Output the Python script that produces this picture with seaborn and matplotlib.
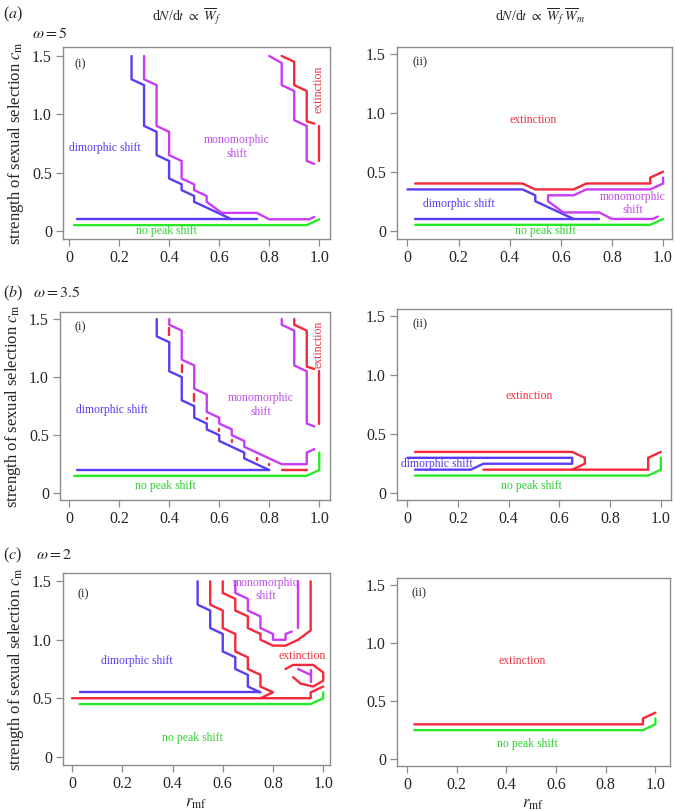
import matplotlib
matplotlib.use("Agg")
import matplotlib.pyplot as plt
import seaborn as sns
import pandas as pd

sns.set_style("white")
plt.rcParams['font.family'] = ['Liberation Serif', 'DejaVu Serif']
plt.rcParams['mathtext.fontset'] = 'stix'

# ---------------- data (r_mf, c_m) ----------------
X_TICKS = [0, 0.2, 0.4, 0.6, 0.8, 1.0]
X_TICKLABELS = ["0", "0.2", "0.4", "0.6", "0.8", "1.0"]
Y_TICKS = [0, 0.5, 1.0, 1.5]
Y_TICKLABELS = ["0", "0.5", "1.0", "1.5"]

COLUMN_TITLES = [r"d$N$/d$t$ $\propto$ $\overline{W}_f$",
                 r"d$N$/d$t$ $\propto$ $\overline{W}_f\ \overline{W}_m$"]
ROW_LETTERS = [r"($a$)", r"($b$)", r"($c$)"]
ROW_OMEGAS = [r"$\omega = 5$", r"$\omega = 3.5$", r"$\omega = 2$"]

# (a)(i)
A1_BLUE = [[(0.25, 1.5), (0.25, 1.3), (0.3, 1.25), (0.3, 0.9), (0.35, 0.85), (0.35, 0.65),
            (0.4, 0.6), (0.4, 0.45), (0.45, 0.4), (0.45, 0.35), (0.5, 0.3), (0.5, 0.25), (0.65, 0.1)],
           [(0.03, 0.1), (0.75, 0.1)]]
A1_PURPLE = [[(0.3, 1.5), (0.3, 1.3), (0.35, 1.25), (0.35, 0.9), (0.4, 0.85), (0.4, 0.65),
              (0.45, 0.6), (0.45, 0.45), (0.5, 0.4), (0.5, 0.35), (0.55, 0.3), (0.55, 0.25),
              (0.61, 0.155), (0.75, 0.155), (0.8, 0.1), (0.96, 0.1), (0.98, 0.12)],
             [(0.8, 1.5), (0.85, 1.44), (0.85, 1.25), (0.9, 1.2), (0.9, 0.95), (0.95, 0.9),
              (0.95, 0.6), (0.98, 0.575)]]
A1_RED = [[(0.85, 1.5), (0.9, 1.45), (0.9, 1.25), (0.95, 1.2), (0.95, 0.94), (0.98, 0.92)],
          [(1.0, 0.9), (1.0, 0.6)]]
A1_GREEN = [[(0.02, 0.05), (0.95, 0.05), (1.0, 0.1)]]

# (a)(ii)
A2_RED = [[(0.03, 0.4), (0.45, 0.4), (0.5, 0.35), (0.65, 0.35), (0.7, 0.4), (0.95, 0.4),
           (0.95, 0.45), (1.0, 0.5)]]
A2_BLUE = [[(0.0, 0.35), (0.45, 0.35), (0.5, 0.3), (0.5, 0.25), (0.65, 0.1)],
           [(0.03, 0.1), (0.75, 0.1)]]
A2_PURPLE = [[(1.0, 0.45), (1.0, 0.4), (0.95, 0.35), (0.7, 0.35), (0.65, 0.3), (0.55, 0.3),
              (0.55, 0.25), (0.61, 0.155), (0.75, 0.155), (0.8, 0.1), (0.96, 0.1), (0.98, 0.12)]]
A2_GREEN = [[(0.03, 0.05), (0.95, 0.05), (1.0, 0.1)]]

# (b)(i)
B1_BLUE = [[(0.35, 1.5), (0.35, 1.35), (0.4, 1.3), (0.4, 1.05), (0.45, 1.0), (0.45, 0.8),
            (0.5, 0.75), (0.5, 0.65), (0.55, 0.6), (0.55, 0.55), (0.6, 0.5), (0.6, 0.45),
            (0.7, 0.35), (0.7, 0.3), (0.8, 0.2)],
           [(0.03, 0.2), (0.8, 0.2)]]
B1_PURPLE = [[(0.4, 1.5), (0.4, 1.45), (0.45, 1.4), (0.45, 1.15), (0.5, 1.1), (0.5, 0.9),
              (0.55, 0.85), (0.55, 0.7), (0.6, 0.65), (0.6, 0.6), (0.65, 0.55), (0.65, 0.5),
              (0.7, 0.45), (0.7, 0.4), (0.85, 0.25), (0.95, 0.25), (0.95, 0.35), (0.98, 0.38)],
             [(0.85, 1.5), (0.85, 1.45), (0.9, 1.4), (0.9, 1.1), (0.95, 1.05), (0.95, 0.6),
              (0.98, 0.575)]]
B1_RED = [[(0.9, 1.5), (0.9, 1.45), (0.95, 1.4), (0.95, 1.09), (0.98, 1.07)],
          [(1.0, 1.05), (1.0, 0.6)],
          [(0.85, 0.2), (0.95, 0.2)],
          [(0.4, 1.42), (0.4, 1.36)], [(0.45, 1.1), (0.45, 1.045)], [(0.5, 0.85), (0.5, 0.79)],
          [(0.55, 0.65), (0.55, 0.635)], [(0.6, 0.555), (0.6, 0.54)], [(0.65, 0.455), (0.65, 0.44)],
          [(0.75, 0.305), (0.75, 0.29)], [(0.8, 0.255), (0.8, 0.24)]]
B1_GREEN = [[(0.02, 0.15), (0.95, 0.15), (1.0, 0.2), (1.0, 0.35)]]

# (b)(ii)
B2_RED = [[(0.03, 0.35), (0.65, 0.35), (0.7, 0.3), (0.7, 0.25), (0.65, 0.2)],
          [(0.3, 0.2), (0.95, 0.2), (0.95, 0.3), (1.0, 0.35)]]
B2_BLUE = [[(0.0, 0.3), (0.65, 0.3), (0.65, 0.25), (0.3, 0.25), (0.25, 0.2), (0.03, 0.2)]]
B2_GREEN = [[(0.03, 0.15), (0.95, 0.15), (1.0, 0.2), (1.0, 0.3)]]

# (c)(i)
C1_BLUE = [[(0.5, 1.5), (0.5, 1.3), (0.55, 1.25), (0.55, 1.1), (0.6, 1.05), (0.6, 0.9),
            (0.65, 0.85), (0.65, 0.75), (0.7, 0.7), (0.7, 0.6), (0.75, 0.55)],
           [(0.03, 0.55), (0.75, 0.55)]]
C1_RED = [[(0.55, 1.5), (0.55, 1.3), (0.6, 1.25), (0.6, 1.1), (0.65, 1.05), (0.65, 0.9),
           (0.7, 0.85), (0.7, 0.75), (0.75, 0.7), (0.75, 0.6), (0.8, 0.55), (0.75, 0.5)],
          [(0.0, 0.5), (0.95, 0.5), (0.95, 0.55), (1.0, 0.6)],
          [(0.6, 1.5), (0.6, 1.4), (0.65, 1.35), (0.65, 1.25), (0.7, 1.2), (0.7, 1.1),
           (0.75, 1.05), (0.75, 1.0), (0.8, 0.95), (0.85, 0.95), (0.9, 1.0), (0.95, 1.08),
           (0.95, 1.5)],
          [(0.85, 0.75), (0.88, 0.785), (0.96, 0.785), (1.0, 0.72), (1.0, 0.65), (0.96, 0.6),
           (0.91, 0.625), (0.88, 0.68)]]
C1_PURPLE = [[(0.65, 1.5), (0.65, 1.4), (0.7, 1.35), (0.7, 1.25), (0.75, 1.2), (0.75, 1.1),
              (0.8, 1.05), (0.8, 1.0), (0.85, 1.0), (0.85, 1.05), (0.875, 1.07)],
             [(0.9, 1.1), (0.9, 1.5)],
             [(0.9, 0.75), (0.95, 0.7)], [(0.95, 0.74), (0.95, 0.64)]]
C1_GREEN = [[(0.03, 0.45), (0.95, 0.45), (1.0, 0.5), (1.0, 0.55)]]

# (c)(ii)
C2_RED = [[(0.03, 0.3), (0.95, 0.3), (0.95, 0.35), (1.0, 0.4)]]
C2_GREEN = [[(0.03, 0.25), (0.95, 0.25), (1.0, 0.3), (1.0, 0.35)]]

# region labels: (text, x, y, colour key, rotation)
A1_LABELS = [("dimorphic shift", 0.145, 0.71, "blue", 0), ("monomorphic\nshift", 0.67, 0.72, "purple", 0),
             ("extinction", 0.997, 1.21, "red", 90), ("no peak shift", 0.39, 0.0, "green", 0)]
A2_LABELS = [("extinction", 0.49, 0.94, "red", 0), ("dimorphic shift", 0.2, 0.23, "blue", 0),
             ("monomorphic\nshift", 0.88, 0.23, "purple", 0), ("no peak shift", 0.54, 0.0, "green", 0)]
B1_LABELS = [("dimorphic shift", 0.17, 0.72, "blue", 0), ("monomorphic\nshift", 0.765, 0.76, "purple", 0),
             ("extinction", 0.997, 1.28, "red", 90), ("no peak shift", 0.385, 0.06, "green", 0)]
B2_LABELS = [("extinction", 0.48, 0.82, "red", 0), ("dimorphic shift", 0.115, 0.25, "blue", 0),
             ("no peak shift", 0.49, 0.065, "green", 0)]
C1_LABELS = [("dimorphic shift", 0.26, 0.82, "blue", 0), ("monomorphic\nshift", 0.77, 1.43, "purple", 0),
             ("extinction", 0.915, 0.865, "red", 0), ("no peak shift", 0.48, 0.16, "green", 0)]
C2_LABELS = [("extinction", 0.465, 0.84, "red", 0), ("no peak shift", 0.485, 0.13, "green", 0)]

# ---------------- styling ----------------
COLORS = {"blue": "#5a3cf5", "purple": "#c83cf5", "red": "#f5283c", "green": "#28eb28"}
TEXT_COLORS = {"blue": "#5a3cf5", "purple": "#c050e8", "red": "#f03040", "green": "#30d030"}
FRAME = "#8c8c8c"
W, H = 675, 811

# axes box in pixels (l, t, r, b) and data limits
PANELS = [
    dict(box=(63, 47, 330, 239), xlim=(-0.024, 1.043), ylim=(-0.069, 1.577), sub="(i)",
         lines=[("blue", A1_BLUE), ("purple", A1_PURPLE), ("red", A1_RED), ("green", A1_GREEN)], labels=A1_LABELS),
    dict(box=(397, 47, 672, 239), xlim=(-0.041, 1.035), ylim=(-0.07, 1.556), sub="(ii)",
         lines=[("red", A2_RED), ("blue", A2_BLUE), ("purple", A2_PURPLE), ("green", A2_GREEN)], labels=A2_LABELS),
    dict(box=(60, 312, 330, 500), xlim=(-0.037, 1.043), ylim=(-0.058, 1.56), sub="(i)",
         lines=[("blue", B1_BLUE), ("purple", B1_PURPLE), ("red", B1_RED), ("green", B1_GREEN)], labels=B1_LABELS),
    dict(box=(397, 309, 671, 500), xlim=(-0.041, 1.04), ylim=(-0.056, 1.556), sub="(ii)",
         lines=[("red", B2_RED), ("blue", B2_BLUE), ("green", B2_GREEN)], labels=B2_LABELS),
    dict(box=(63, 573, 330, 765), xlim=(-0.036, 1.027), ylim=(-0.071, 1.571), sub="(i)",
         lines=[("blue", C1_BLUE), ("red", C1_RED), ("purple", C1_PURPLE), ("green", C1_GREEN)], labels=C1_LABELS),
    dict(box=(397, 578, 670, 766), xlim=(-0.04, 1.059), ylim=(-0.058, 1.557), sub="(ii)",
         lines=[("red", C2_RED), ("green", C2_GREEN)], labels=C2_LABELS),
]

fig = plt.figure(figsize=(W / 100, H / 100), dpi=100)

for i, p in enumerate(PANELS):
    l, t, r, b = p["box"]
    ax = fig.add_axes([l / W, 1 - b / H, (r - l) / W, (b - t) / H])
    for ckey, segs in p["lines"]:
        for seg in segs:
            df = pd.DataFrame(seg, columns=["r_mf", "c_m"])
            sns.lineplot(data=df, x="r_mf", y="c_m", sort=False, estimator=None,
                         color=COLORS[ckey], linewidth=1.7, ax=ax, legend=False)
    for txt, x, y, ckey, rot in p["labels"]:
        ax.text(x, y, txt, color=TEXT_COLORS[ckey], fontsize=8.5, ha="center", va="center",
                rotation=rot, linespacing=1.15)
    ax.text(0.02, 1.43 if i != 4 else 1.39, p["sub"], fontsize=9, ha="left", va="center")
    ax.set_xlim(*p["xlim"])
    ax.set_ylim(*p["ylim"])
    ax.set_xticks(X_TICKS)
    ax.set_yticks(Y_TICKS)
    ax.set_yticklabels(Y_TICKLABELS)
    ax.set_xticklabels(X_TICKLABELS)
    ax.set_xlabel("")
    ax.set_ylabel("")
    for s in ax.spines.values():
        s.set_color(FRAME)
        s.set_linewidth(1.0)
    ax.tick_params(axis="both", direction="out", length=5, width=0.9, color=FRAME,
                   labelsize=11.5, pad=3, bottom=True, left=True)
    if i in (4, 5):
        ax.set_xlabel(r"$r_{\rm mf}$", fontsize=12, labelpad=2)
    if i % 2 == 0:
        ax.set_ylabel(r"strength of sexual selection $c_{\rm m}$", fontsize=12, labelpad=4)

fig.text(187 / W, 1 - 17 / H, COLUMN_TITLES[0], fontsize=10, ha="center", va="center")
fig.text(540 / W, 1 - 17 / H, COLUMN_TITLES[1], fontsize=10, ha="center", va="center")
for (lx, ly), (ox, oy), let, om in zip([(3, 14), (3, 293), (3, 555)], [(32, 34), (33, 293), (36, 555)],
                                        ROW_LETTERS, ROW_OMEGAS):
    fig.text(lx / W, 1 - ly / H, let, fontsize=11.5, ha="left", va="center")
    fig.text(ox / W, 1 - oy / H, om, fontsize=11.5, ha="left", va="center")

fig.savefig("out.png", dpi=100)
